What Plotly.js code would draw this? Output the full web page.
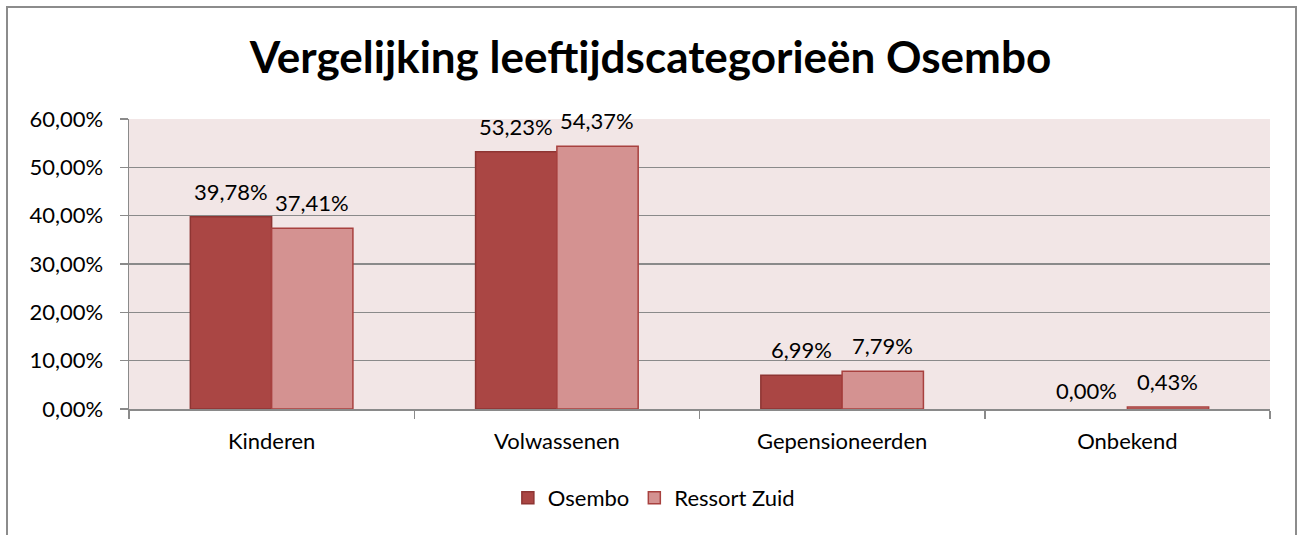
<!DOCTYPE html>
<html>
<head>
<meta charset="utf-8">
<script src="https://cdn.plot.ly/plotly-3.0.1.min.js"></script>
<style>
body{margin:0;padding:0;background:#fff;}
#wrap{position:relative;width:1301px;height:535px;}
#chart{position:absolute;left:0;top:0;width:1301px;height:535px;}
#frame{position:absolute;left:6px;top:6px;width:1291px;height:540px;border:2px solid #8c8c8c;pointer-events:none;box-sizing:border-box;}
</style>
</head>
<body>
<div id="wrap"><div id="chart"></div><div id="frame"></div></div>
<script>
const categories = ["Kinderen", "Volwassenen", "Gepensioneerden", "Onbekend"];
const osembo = [0.3978, 0.5323, 0.0699, 0.0000];
const ressortZuid = [0.3741, 0.5437, 0.0779, 0.0043];
const seriesNames = ["Osembo", "Ressort Zuid"];
const yTicks = [0, 0.1, 0.2, 0.3, 0.4, 0.5, 0.6];

const FONT = "Lato, 'Open Sans', sans-serif";
const FS = 22;

function lineWidths(vals) { return vals.map(v => v > 0 ? 1.5 : 0); }
function fmt(v) { return (v * 100).toFixed(2).replace(".", ",") + "%"; }

const traces = [
  {
    type: "bar", name: seriesNames[0], x: categories, y: osembo,
    marker: {color: "#AA4644", line: {color: "#8E3533", width: lineWidths(osembo)}}
  },
  {
    type: "bar", name: seriesNames[1], x: categories, y: ressortZuid,
    marker: {color: "#D49291", line: {color: "#A8413F", width: lineWidths(ressortZuid)}}
  }
];

// data labels above each bar (offset to the bar's position within its group)
const annotations = [];
[osembo, ressortZuid].forEach((series, j) => {
  series.forEach((v, i) => {
    annotations.push({
      x: categories[i], y: v, xref: "x", yref: "y",
      text: fmt(v), showarrow: false,
      xanchor: "center", yanchor: "bottom",
      xshift: j === 0 ? -40.6 : 40.6, yshift: v > 0 ? 10 : 3,
      font: {family: FONT, size: FS, color: "#000"}
    });
  });
});

const layout = {
  width: 1301, height: 535,
  margin: {l: 129, r: 31, t: 119, b: 126, pad: 0, autoexpand: false},
  paper_bgcolor: "#ffffff",
  plot_bgcolor: "#F2E6E6",
  separators: ",.",
  font: {family: FONT, size: FS, color: "#000"},
  title: {text: "<b>Vergelijking leeftijdscategorieën Osembo</b>", x: 0.5, xanchor: "center", y: 0.893, yanchor: "middle",
          font: {family: FONT, size: 44, color: "#000"}},
  barmode: "group",
  bargap: 0.43,
  bargroupgap: 0,
  xaxis: {
    type: "category", showgrid: false, showline: true, linecolor: "#8a8a8a", linewidth: 1.5,
    ticks: "outside", tickson: "boundaries", ticklen: 8, tickcolor: "#8a8a8a", tickwidth: 1.5,
    ticklabelstandoff: 12,
    tickfont: {family: FONT, size: FS, color: "#000"}, automargin: false
  },
  yaxis: {
    range: [0, 0.6], tickvals: yTicks, tickformat: ".2%",
    showgrid: true, gridcolor: "#8a8a8a", gridwidth: 1.5,
    showline: true, linecolor: "#8a8a8a", linewidth: 1.5,
    ticks: "outside", ticklen: 8, tickcolor: "#8a8a8a", tickwidth: 1.5,
    ticklabelstandoff: 12,
    zeroline: false, automargin: false,
    tickfont: {family: FONT, size: FS, color: "#000"}
  },
  annotations: annotations,
  legend: {orientation: "h", x: 0.46, xanchor: "center", y: -0.307, yanchor: "middle",
           font: {family: FONT, size: FS, color: "#000"}, itemwidth: 30, traceorder: "normal"},
  showlegend: true
};

Plotly.newPlot("chart", traces, layout, {displayModeBar: false, staticPlot: true});
</script>
</body>
</html>
